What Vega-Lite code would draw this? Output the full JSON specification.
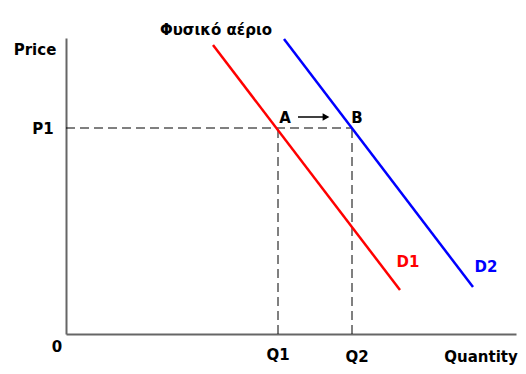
{
  "$schema": "https://vega.github.io/schema/vega-lite/v6.json",
  "width": 450,
  "height": 296,
  "autosize": "none",
  "padding": {"left": 66, "top": 38, "right": 10, "bottom": 40},
  "background": "white",
  "config": {"view": {"stroke": null}},
  "datasets": {
    "curves": [
      {"series": "D1", "q": 147, "p": 289},
      {"series": "D1", "q": 334, "p": 44},
      {"series": "D2", "q": 218, "p": 295},
      {"series": "D2", "q": 407, "p": 47}
    ],
    "guides": [
      {"q": 0, "q2": 286, "p": 206, "p2": 206},
      {"q": 212, "q2": 212, "p": 0, "p2": 206},
      {"q": 286, "q2": 286, "p": 0, "p2": 206}
    ],
    "labels": [
      {"text": "Φυσικό αέριο", "q": 150, "p": 304, "series": "label"},
      {"text": "Price", "q": -31, "p": 284, "series": "label"},
      {"text": "P1", "q": -23, "p": 205, "series": "label"},
      {"text": "A", "q": 219, "p": 216, "series": "label"},
      {"text": "B", "q": 291, "p": 216, "series": "label"},
      {"text": "D1", "q": 342, "p": 72, "series": "D1"},
      {"text": "D2", "q": 420, "p": 67, "series": "D2"},
      {"text": "0", "q": -9, "p": -13, "series": "label"},
      {"text": "Q1", "q": 212, "p": -21, "series": "label"},
      {"text": "Q2", "q": 291, "p": -23, "series": "label"},
      {"text": "Quantity", "q": 415, "p": -23, "series": "label"}
    ],
    "shift": [
      {"q": 232, "q2": 260, "p": 217}
    ]
  },
  "layer": [
    {
      "data": {"name": "guides"},
      "mark": {"type": "rule", "strokeDash": [9, 5], "strokeWidth": 1, "color": "#000"},
      "encoding": {
        "x": {"field": "q", "type": "quantitative", "scale": {"domain": [0, 450], "nice": false, "zero": false},
              "axis": {"labels": false, "ticks": false, "grid": false, "title": null, "domainColor": "#666", "domainWidth": 2}},
        "y": {"field": "p", "type": "quantitative", "scale": {"domain": [0, 296], "nice": false, "zero": false},
              "axis": {"labels": false, "ticks": false, "grid": false, "title": null, "domainColor": "#666", "domainWidth": 2}},
        "x2": {"field": "q2"},
        "y2": {"field": "p2"}
      }
    },
    {
      "data": {"name": "curves"},
      "mark": {"type": "line", "strokeWidth": 2.5},
      "encoding": {
        "x": {"field": "q", "type": "quantitative"},
        "y": {"field": "p", "type": "quantitative"},
        "color": {"field": "series", "type": "nominal",
                  "scale": {"domain": ["D1", "D2", "label"], "range": ["#ff0000", "#0000ff", "#000000"]},
                  "legend": null}
      }
    },
    {
      "data": {"name": "shift"},
      "mark": {"type": "rule", "strokeWidth": 1.5, "color": "black"},
      "encoding": {
        "x": {"field": "q", "type": "quantitative"},
        "x2": {"field": "q2"},
        "y": {"field": "p", "type": "quantitative"}
      }
    },
    {
      "data": {"name": "shift"},
      "mark": {"type": "point", "shape": "triangle-right", "filled": true, "size": 60, "color": "black", "opacity": 1},
      "encoding": {
        "x": {"field": "q2", "type": "quantitative"},
        "y": {"field": "p", "type": "quantitative"}
      }
    },
    {
      "data": {"name": "labels"},
      "mark": {"type": "text", "font": "DejaVu Sans", "fontWeight": "bold", "fontSize": 15, "align": "center", "baseline": "middle"},
      "encoding": {
        "x": {"field": "q", "type": "quantitative"},
        "y": {"field": "p", "type": "quantitative"},
        "text": {"field": "text"},
        "color": {"field": "series", "type": "nominal", "legend": null}
      }
    }
  ]
}
